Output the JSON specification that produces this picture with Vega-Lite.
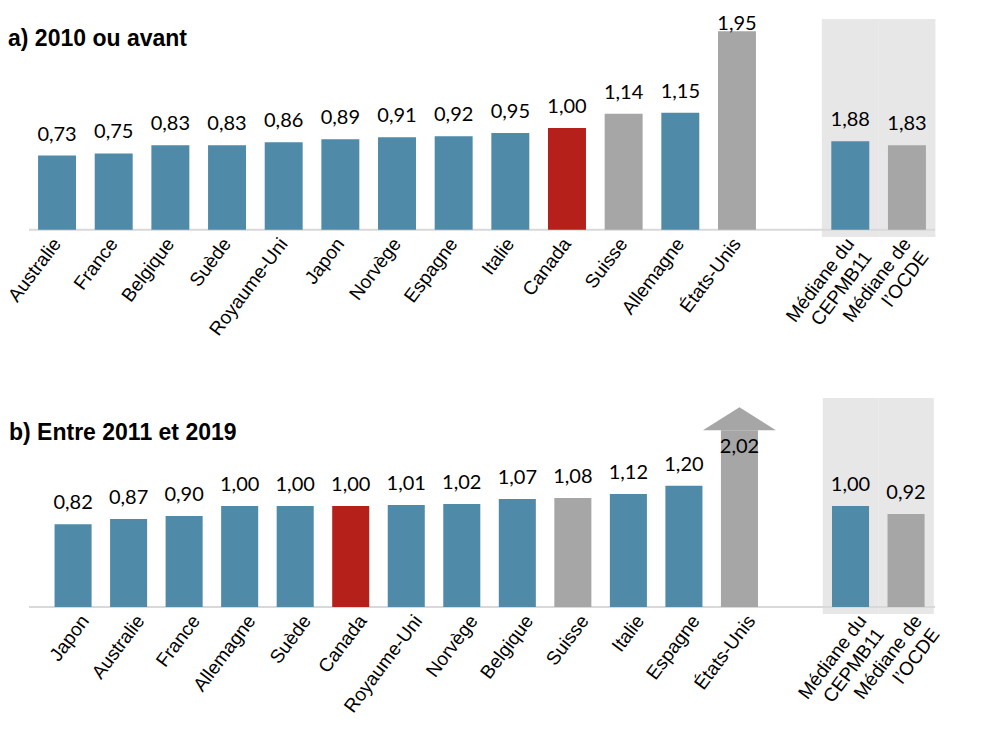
{
  "$schema": "https://vega.github.io/schema/vega-lite/v6.json",
  "padding": {"left": 4, "top": 14, "right": 5, "bottom": 5},
  "config": {
    "view": {"stroke": null},
    "axisX": {"labelFont": "Liberation Sans", "labelFontSize": 19, "labelColor": "#000000", "labelAngle": -53, "labelAlign": "right", "labelBaseline": "middle", "domain": false, "ticks": false, "labelPadding": 3, "labelOverlap": false, "labelLineHeight": 22, "title": null}
  },
  "datasets": {
    "barres": [
      {"panneau": "a", "pays": "Australie", "valeur": 0.73, "hauteur": 0.73, "groupe": "CEPMB11", "type": "pays", "tronque": false},
      {"panneau": "a", "pays": "France", "valeur": 0.75, "hauteur": 0.75, "groupe": "CEPMB11", "type": "pays", "tronque": false},
      {"panneau": "a", "pays": "Belgique", "valeur": 0.83, "hauteur": 0.83, "groupe": "CEPMB11", "type": "pays", "tronque": false},
      {"panneau": "a", "pays": "Suède", "valeur": 0.83, "hauteur": 0.83, "groupe": "CEPMB11", "type": "pays", "tronque": false},
      {"panneau": "a", "pays": "Royaume-Uni", "valeur": 0.86, "hauteur": 0.86, "groupe": "CEPMB11", "type": "pays", "tronque": false},
      {"panneau": "a", "pays": "Japon", "valeur": 0.89, "hauteur": 0.89, "groupe": "CEPMB11", "type": "pays", "tronque": false},
      {"panneau": "a", "pays": "Norvège", "valeur": 0.91, "hauteur": 0.91, "groupe": "CEPMB11", "type": "pays", "tronque": false},
      {"panneau": "a", "pays": "Espagne", "valeur": 0.92, "hauteur": 0.92, "groupe": "CEPMB11", "type": "pays", "tronque": false},
      {"panneau": "a", "pays": "Italie", "valeur": 0.95, "hauteur": 0.95, "groupe": "CEPMB11", "type": "pays", "tronque": false},
      {"panneau": "a", "pays": "Canada", "valeur": 1.00, "hauteur": 1.00, "groupe": "Canada", "type": "pays", "tronque": false},
      {"panneau": "a", "pays": "Suisse", "valeur": 1.14, "hauteur": 1.14, "groupe": "Autre", "type": "pays", "tronque": false},
      {"panneau": "a", "pays": "Allemagne", "valeur": 1.15, "hauteur": 1.15, "groupe": "CEPMB11", "type": "pays", "tronque": false},
      {"panneau": "a", "pays": "États-Unis", "valeur": 1.95, "hauteur": 1.95, "groupe": "Autre", "type": "pays", "tronque": false},
      {"panneau": "a", "pays": "Médiane du CEPMB11", "valeur": 1.88, "hauteur": 0.87, "groupe": "CEPMB11", "type": "mediane", "tronque": false},
      {"panneau": "a", "pays": "Médiane de l’OCDE", "valeur": 1.83, "hauteur": 0.83, "groupe": "Autre", "type": "mediane", "tronque": false},
      {"panneau": "b", "pays": "Japon", "valeur": 0.82, "hauteur": 0.82, "groupe": "CEPMB11", "type": "pays", "tronque": false},
      {"panneau": "b", "pays": "Australie", "valeur": 0.87, "hauteur": 0.87, "groupe": "CEPMB11", "type": "pays", "tronque": false},
      {"panneau": "b", "pays": "France", "valeur": 0.90, "hauteur": 0.90, "groupe": "CEPMB11", "type": "pays", "tronque": false},
      {"panneau": "b", "pays": "Allemagne", "valeur": 1.00, "hauteur": 1.00, "groupe": "CEPMB11", "type": "pays", "tronque": false},
      {"panneau": "b", "pays": "Suède", "valeur": 1.00, "hauteur": 1.00, "groupe": "CEPMB11", "type": "pays", "tronque": false},
      {"panneau": "b", "pays": "Canada", "valeur": 1.00, "hauteur": 1.00, "groupe": "Canada", "type": "pays", "tronque": false},
      {"panneau": "b", "pays": "Royaume-Uni", "valeur": 1.01, "hauteur": 1.01, "groupe": "CEPMB11", "type": "pays", "tronque": false},
      {"panneau": "b", "pays": "Norvège", "valeur": 1.02, "hauteur": 1.02, "groupe": "CEPMB11", "type": "pays", "tronque": false},
      {"panneau": "b", "pays": "Belgique", "valeur": 1.07, "hauteur": 1.07, "groupe": "CEPMB11", "type": "pays", "tronque": false},
      {"panneau": "b", "pays": "Suisse", "valeur": 1.08, "hauteur": 1.08, "groupe": "Autre", "type": "pays", "tronque": false},
      {"panneau": "b", "pays": "Italie", "valeur": 1.12, "hauteur": 1.12, "groupe": "CEPMB11", "type": "pays", "tronque": false},
      {"panneau": "b", "pays": "Espagne", "valeur": 1.20, "hauteur": 1.20, "groupe": "CEPMB11", "type": "pays", "tronque": false},
      {"panneau": "b", "pays": "États-Unis", "valeur": 2.02, "hauteur": 1.75, "groupe": "Autre", "type": "pays", "tronque": true},
      {"panneau": "b", "pays": "Médiane du CEPMB11", "valeur": 1.00, "hauteur": 1.00, "groupe": "CEPMB11", "type": "mediane", "tronque": false},
      {"panneau": "b", "pays": "Médiane de l’OCDE", "valeur": 0.92, "hauteur": 0.92, "groupe": "Autre", "type": "mediane", "tronque": false}
    ]
  },
  "spacing": 161,
  "bounds": "flush",
  "vconcat": [
    {
      "width": 906,
      "height": 218,
      "data": {"name": "barres"},
      "transform": [{"filter": "datum.panneau == 'a'"}, {"calculate": "replace(format(datum.valeur, '.2f'), '.', ',')", "as": "etiquette"}],
      "title": {"text": "a) 2010 ou avant", "anchor": "start", "frame": "group", "font": "Liberation Sans", "fontSize": 23, "fontWeight": "bold", "color": "#000000", "baseline": "alphabetic", "offset": -28, "dx": -21, "dy": 27},
      "layer": [
        {
          "transform": [{"filter": "datum.type == 'mediane'"}],
          "mark": {"type": "bar", "color": "#e7e7e7", "width": {"band": 1.5}},
          "encoding": {
            "x": {"field": "pays", "type": "nominal"},
            "y": {"datum": 2.07, "type": "quantitative", "axis": null},
            "y2": {"datum": -0.07}
          }
        },
        {
          "transform": [{"filter": "datum.pays == 'Canada'"}],
          "mark": {"type": "rule", "color": "#d9d9d9", "strokeWidth": 2},
          "encoding": {"y": {"datum": 0, "type": "quantitative", "axis": null}}
        },
        {
          "mark": {"type": "bar"},
          "encoding": {
            "x": {
              "field": "pays", "type": "nominal",
              "scale": {"domain": ["Australie", "France", "Belgique", "Suède", "Royaume-Uni", "Japon", "Norvège", "Espagne", "Italie", "Canada", "Suisse", "Allemagne", "États-Unis", " ", "Médiane du CEPMB11", "Médiane de l’OCDE"], "paddingInner": 0.33, "paddingOuter": 0.16},
              "axis": {"labelExpr": "datum.value == 'Médiane du CEPMB11' ? ['Médiane du', 'CEPMB11'] : datum.value == 'Médiane de l’OCDE' ? ['Médiane de', 'l’OCDE'] : datum.value"}
            },
            "y": {"field": "hauteur", "type": "quantitative", "scale": {"domain": [-0.07, 2.07], "nice": false, "zero": false}, "axis": null},
            "y2": {"datum": 0},
            "color": {"field": "groupe", "type": "nominal", "scale": {"domain": ["CEPMB11", "Canada", "Autre"], "range": ["#4f8aa9", "#b5211a", "#a6a6a6"]}, "legend": null}
          }
        },
        {
          "transform": [{"filter": "datum.pays != 'États-Unis'"}],
          "mark": {"type": "text", "font": "Lato", "fontSize": 20, "baseline": "alphabetic", "dy": -15, "color": "#000000"},
          "encoding": {
            "x": {"field": "pays", "type": "nominal"},
            "y": {"field": "hauteur", "type": "quantitative", "axis": null},
            "text": {"field": "etiquette", "type": "nominal"}
          }
        },
        {
          "transform": [{"filter": "datum.pays == 'États-Unis'"}],
          "mark": {"type": "text", "font": "Lato", "fontSize": 20, "baseline": "alphabetic", "dy": -1, "color": "#000000"},
          "encoding": {
            "x": {"field": "pays", "type": "nominal"},
            "y": {"field": "hauteur", "type": "quantitative", "axis": null},
            "text": {"field": "etiquette", "type": "nominal"}
          }
        }
      ]
    },
    {
      "width": 906,
      "height": 216,
      "data": {"name": "barres"},
      "transform": [{"filter": "datum.panneau == 'b'"}, {"calculate": "replace(format(datum.valeur, '.2f'), '.', ',')", "as": "etiquette"}],
      "title": {"text": "b) Entre 2011 et 2019", "anchor": "start", "frame": "group", "font": "Liberation Sans", "fontSize": 23, "fontWeight": "bold", "color": "#000000", "baseline": "alphabetic", "offset": -44, "dx": -20, "dy": 21},
      "layer": [
        {
          "transform": [{"filter": "datum.type == 'mediane'"}],
          "mark": {"type": "bar", "color": "#e7e7e7", "width": {"band": 1.5}},
          "encoding": {
            "x": {"field": "pays", "type": "nominal"},
            "y": {"datum": 2.07, "type": "quantitative", "axis": null},
            "y2": {"datum": -0.07}
          }
        },
        {
          "transform": [{"filter": "datum.pays == 'Canada'"}],
          "mark": {"type": "rule", "color": "#d9d9d9", "strokeWidth": 2},
          "encoding": {"y": {"datum": 0, "type": "quantitative", "axis": null}}
        },
        {
          "mark": {"type": "bar"},
          "encoding": {
            "x": {
              "field": "pays", "type": "nominal",
              "scale": {"domain": ["Japon", "Australie", "France", "Allemagne", "Suède", "Canada", "Royaume-Uni", "Norvège", "Belgique", "Suisse", "Italie", "Espagne", "États-Unis", " ", "Médiane du CEPMB11", "Médiane de l’OCDE"], "paddingInner": 0.333, "paddingOuter": 0.324, "align": 0.71},
              "axis": {"labelOffset": 12, "labelExpr": "datum.value == 'Médiane du CEPMB11' ? ['Médiane du', 'CEPMB11'] : datum.value == 'Médiane de l’OCDE' ? ['Médiane de', 'l’OCDE'] : datum.value"}
            },
            "y": {"field": "hauteur", "type": "quantitative", "scale": {"domain": [-0.07, 2.07], "nice": false, "zero": false}, "axis": null},
            "y2": {"datum": 0},
            "color": {"field": "groupe", "type": "nominal", "scale": {"domain": ["CEPMB11", "Canada", "Autre"], "range": ["#4f8aa9", "#b5211a", "#a6a6a6"]}, "legend": null}
          }
        },
        {
          "transform": [{"filter": "datum.tronque"}],
          "mark": {"type": "point", "shape": "M-1,0L1,0L0,-0.63Z", "size": 5329, "filled": true, "opacity": 1, "color": "#a6a6a6", "strokeWidth": 0},
          "encoding": {
            "x": {"field": "pays", "type": "nominal"},
            "y": {"field": "hauteur", "type": "quantitative", "axis": null}
          }
        },
        {
          "transform": [{"filter": "!datum.tronque"}],
          "mark": {"type": "text", "font": "Lato", "fontSize": 20, "baseline": "alphabetic", "dy": -15, "color": "#000000"},
          "encoding": {
            "x": {"field": "pays", "type": "nominal"},
            "y": {"field": "hauteur", "type": "quantitative", "axis": null},
            "text": {"field": "etiquette", "type": "nominal"}
          }
        },
        {
          "transform": [{"filter": "datum.tronque"}],
          "mark": {"type": "text", "font": "Lato", "fontSize": 20, "baseline": "alphabetic", "dy": 23, "color": "#000000"},
          "encoding": {
            "x": {"field": "pays", "type": "nominal"},
            "y": {"field": "hauteur", "type": "quantitative", "axis": null},
            "text": {"field": "etiquette", "type": "nominal"}
          }
        }
      ]
    }
  ]
}
